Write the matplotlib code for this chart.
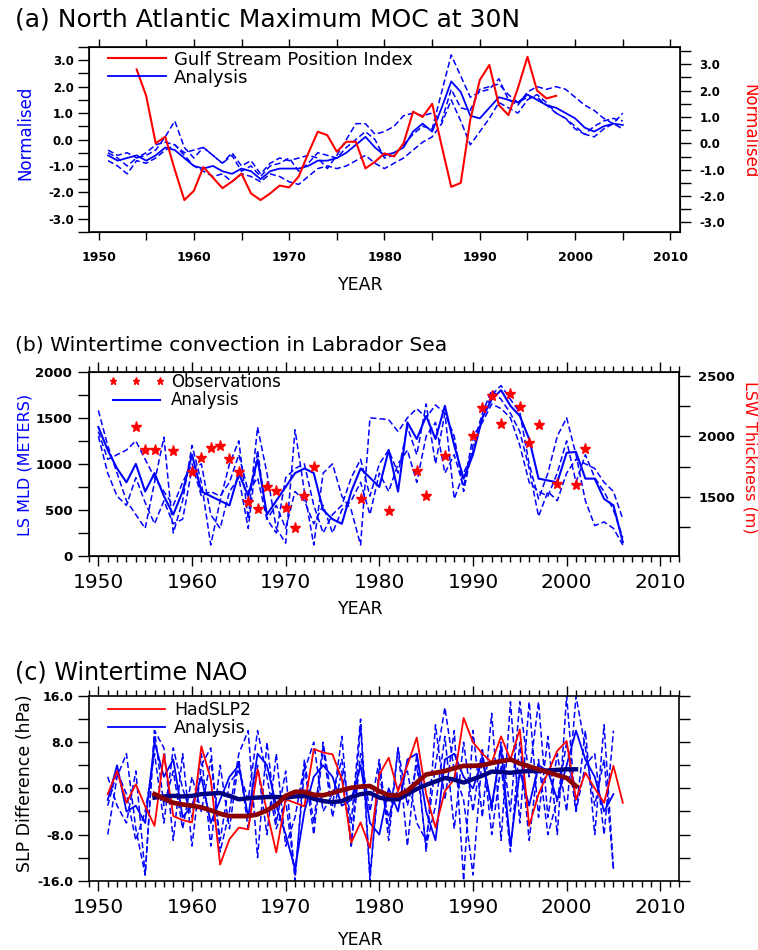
import numpy as np
import matplotlib
matplotlib.use('Agg')
import matplotlib.pyplot as plt
from matplotlib.ticker import MultipleLocator, FormatStrFormatter

plt.rcParams['font.family'] = ['DejaVu Sans']

BLUE = '#0000ff'
RED = '#ff0000'
DARKRED = '#8b0000'
NAVY = '#000080'
DASH = (0, (4, 2))

# ---------------- (a) MOC at 30N ----------------
gsi_years = np.arange(1954, 1999)
gsi = [2.8, 1.8, 0.0, 0.25, -1.0, -2.15, -1.8, -0.9, -1.3, -1.7,
       -1.45, -1.15, -1.9, -2.15, -1.9, -1.6, -1.67, -1.26, -0.38, 0.44,
       0.31, -0.32, 0.06, 0.06, -0.95, -0.7, -0.38, -0.5, 0.0, 1.2,
       1.0, 1.5, -0.1, -1.65, -1.5, 0.9, 2.4, 2.97, 1.45, 1.07,
       2.1, 3.28, 2.0, 1.7, 1.8]

moc_years = np.arange(1951, 2006)
moc_solid = [-0.6, -0.8, -0.7, -0.6, -0.8, -0.6, -0.3, -0.4, -0.7, -1.0,
             -1.1, -1.0, -1.2, -1.3, -1.1, -1.2, -1.5, -1.2, -1.1, -1.1,
             -1.1, -1.0, -0.8, -0.8, -0.7, -0.5, -0.2, 0.1, -0.3, -0.6,
             -0.5, -0.3, 0.3, 0.6, 0.3, 1.2, 2.2, 1.8, 0.9, 0.8,
             1.2, 1.6, 1.5, 1.4, 1.7, 1.5, 1.3, 1.2, 1.0, 0.8,
             0.45, 0.3, 0.5, 0.6, 0.55]
moc_dash1 = [-0.5, -0.7, -1.0, -0.7, -0.6, -0.4, 0.1, 0.7, -0.3, -0.7,
             -0.3, -0.6, -0.9, -0.6, -1.2, -1.0, -1.4, -1.0, -0.9, -0.7,
             -1.2, -0.9, -0.5, -0.6, -0.7, -0.3, 0.0, 0.3, 0.0, -0.7,
             -0.6, -0.2, 0.2, 0.5, 0.4, 1.8, 3.2, 2.4, 1.6, 1.8,
             1.9, 2.3, 1.5, 1.3, 1.8, 2.0, 1.9, 2.0, 1.9, 1.6,
             1.3, 1.1, 0.8, 0.6, 1.0]
moc_dash2 = [-0.8, -1.0, -1.3, -0.8, -0.9, -0.7, -0.4, -0.2, -0.6, -1.0,
             -1.2, -1.4, -1.3, -1.6, -1.3, -1.4, -1.6, -1.3, -1.4, -1.6,
             -1.7, -1.4, -1.1, -1.0, -1.1, -1.0, -0.8, -0.6, -0.9, -1.1,
             -0.9, -0.7, -0.4, -0.1, 0.1, 0.6, 1.5, 0.7, -0.2, 0.3,
             0.8, 1.4, 1.2, 1.0, 1.5, 1.7, 1.4, 1.0, 0.8, 0.5,
             0.2, 0.1, 0.4, 0.6, 0.4]
moc_dash3 = [-0.4, -0.6, -0.5, -0.7, -0.5, -0.2, -0.1, -0.2, -0.5, -0.4,
             -0.3, -0.6, -0.9, -0.5, -1.0, -0.8, -1.3, -0.9, -0.7, -0.8,
             -0.7, -0.6, -0.7, -1.1, -0.6, 0.0, 0.6, 0.6, 0.2, 0.3,
             0.5, 0.9, 1.0, 0.9, 1.0, 0.7, 1.9, 1.2, 1.1, 1.9,
             2.0, 2.1, 1.7, 1.4, 1.6, 1.6, 1.3, 1.0, 0.8, 0.4,
             0.2, 0.5, 0.7, 0.8, 0.7]

# ---------------- (b) Labrador Sea ----------------
obs_years = [1954, 1955, 1956, 1958, 1960, 1961, 1962, 1963, 1964, 1965,
             1966, 1967, 1968, 1969, 1970, 1971, 1972, 1973, 1978, 1981,
             1984, 1985, 1987, 1990, 1991, 1992, 1993, 1994, 1995, 1996,
             1997, 1999, 2001, 2002]
obs_lsw = [2075, 1887, 1887, 1881, 1707, 1818, 1906, 1920, 1810, 1707,
           1459, 1395, 1578, 1550, 1404, 1238, 1508, 1749, 1478, 1382,
           1713, 1506, 1838, 2003, 2233, 2335, 2103, 2352, 2246, 1948,
           2094, 1603, 1597, 1893]

mld_years = np.arange(1950, 2007)
mld_solid = [1400, 1150, 950, 800, 1000, 700, 900, 650, 450, 700,
             1100, 700, 650, 600, 550, 900, 650, 1050, 450, 600,
             750, 900, 950, 900, 500, 400, 350, 700, 950, 850,
             750, 1150, 700, 1450, 1270, 1520, 1270, 1630, 1200, 840,
             1100, 1500, 1700, 1800, 1630, 1520, 1270, 840, 820, 800,
             1120, 1130, 840, 840, 620, 550, 150]
mld_dash1 = [1580, 1200, 900, 600, 450, 300, 800, 1290, 250, 600,
             1200, 800, 120, 600, 1000, 1250, 400, 1400, 900, 300,
             140, 1370, 700, 120, 900, 1000, 650, 500, 120, 1500,
             1490, 1480, 1350, 1500, 1600, 1500, 1640, 1550, 620, 900,
             1130, 1500, 1750, 1850, 1700, 1560, 1000, 620, 900, 1300,
             1500, 1100, 600, 330, 370, 300, 120]
mld_dash2 = [1350, 1050, 1100, 1150, 1250, 1050, 850, 700, 550, 800,
             1000, 650, 700, 650, 800, 1100, 700, 850, 400, 250,
             850, 950, 1000, 550, 250, 450, 550, 850, 1050, 650,
             1000, 1150, 900, 1400, 1100, 1650, 1000, 1550, 1300, 700,
             1200, 1550, 1800, 1700, 1550, 1350, 950, 430, 700, 600,
             900, 1050, 1000, 950, 800, 700, 400]
mld_dash3 = [1300, 900, 650, 550, 850, 580, 350, 600, 350, 400,
             950, 1000, 450, 300, 700, 850, 300, 1150, 400, 550,
             300, 700, 600, 350, 550, 250, 500, 600, 800, 450,
             900, 700, 1000, 1150, 800, 1300, 1450, 900, 1100, 750,
             1300, 1450, 1650, 1600, 1500, 1200, 800, 700, 650, 900,
             1250, 800, 1100, 850, 700, 500, 200]

# ---------------- (c) Wintertime NAO ----------------
had_years = np.arange(1951, 2007)
hadslp2 = [-1.0, 3.0, -2.5, 0.7, -3.1, -6.5, 5.9, -4.8, -5.5, -5.9,
           7.3, 1.6, -13.2, -8.8, -6.8, -7.1, 3.3, -4.0, -11.1, -1.9,
           -2.5, -3.1, 6.8, 6.2, 5.9, 1.6, -9.4, -5.9, -10.3, 2.4,
           5.3, -0.5, 4.0, 8.8, -1.0, -6.8, -0.5, 1.6, 12.2, 8.0,
           6.0, 4.5, 9.0, 5.0, 10.2, -6.5, -1.0, 2.7, 6.5, 8.2,
           -1.9, 2.7, 0.0, -2.5, 3.9, -2.5]

smooth_years = np.arange(1956, 2002)
had_smooth = [-1.0, -1.8, -2.5, -2.8, -3.0, -3.3, -3.8, -4.4, -4.8, -4.8,
              -4.8, -4.5, -3.8, -2.9, -1.3, -0.6, -0.6, -1.1, -1.2, -0.8,
              -0.3, 0.1, 0.3, 0.4, -0.5, -1.2, -1.2, -0.4, 1.0, 2.4,
              2.7, 3.0, 3.5, 3.9, 3.9, 4.0, 4.4, 4.7, 5.0, 4.3,
              3.8, 3.3, 2.8, 2.3, 1.8, 0.4]
ana_smooth = [-1.6, -1.4, -1.3, -1.4, -1.3, -1.0, -0.9, -0.8, -1.3, -1.9,
              -1.7, -1.6, -1.5, -1.5, -1.6, -1.4, -1.3, -1.8, -2.2, -2.4,
              -2.2, -1.5, -1.0, -0.8, -1.6, -1.9, -1.9, -1.0, -0.1, 0.6,
              1.2, 1.8, 1.5, 1.0, 1.6, 2.2, 2.9, 2.8, 2.7, 2.9,
              3.0, 3.0, 3.1, 3.2, 3.3, 3.3]

nao_years = np.arange(1951, 2006)
nao_solid = [-2, 4, -4, -3, -6, 8, 2, 5, -5, -3,
             2, -6, -2, 2, 4, -5, 6, 4, -3, -8,
             -14, -4, 2, 4, 2, -3, -2, 4, -6, -8,
             0, -4, 5, 6, -4, -9, 5, 6, 2, 0,
             5, -3, 7, -10, 3, -3, 4, 3, -2, 4,
             10, 5, 2, -4, -1]
nao_dash1 = [-8, 2, 6, -7, -15, 10, 7, -9, 6, -10,
             4, 7, -11, -4, 6, 10, -12, 8, -6, 3,
             -16, 5, -6, 8, -3, 9, -10, 11, -16, 4,
             -7, 7, -10, 6, -11, 11, -2, 10, -16, 10,
             -5, 13, -9, 15, -6, 15, -5, 9, -8, 16,
             -4, 10, -8, 11, -14]
nao_dash2 = [2, -3, -6, 3, -15, 10, -3, 3, -7, 2,
             -4, 5, -9, 1, 3, -2, 10, 2, -7, -2,
             -15, 3, 8, -4, -1, 5, -6, 12, -15, 2,
             -5, 0, 3, -6, -9, 4, 14, 3, -2, -15,
             6, -4, 8, -4, 15, 2, 15, -5, 6, -4,
             16, 7, -3, 5, -14]
nao_dash3 = [-3, 3, -1, -9, -4, 6, -6, 7, 0, -5,
             6, -10, 4, -7, 5, -7, 4, -8, 6, -10,
             -5, 4, -8, 7, -5, 3, -10, 6, -4, 5,
             -9, 7, -3, 4, -10, -3, 9, -7, 8, -4,
             7, -8, 4, -11, 8, -9, 5, -8, -2, 8,
             -4, 4, 6, -8, 10]


def bold_ticks(ax, which):
    labs = ax.get_xticklabels() if which == 'x' else ax.get_yticklabels()
    plt.setp(labs, fontweight='bold')


def style_frame(ax):
    for s in ax.spines.values():
        s.set_linewidth(1.2)


fig = plt.figure(figsize=(7.58, 9.5), dpi=100)

# ======== panel (a) ========
axa = fig.add_axes([0.1174, 0.7558, 0.7797, 0.1947])
style_frame(axa)
axa.plot(moc_years, moc_dash1, color=BLUE, lw=1.1, ls=DASH)
axa.plot(moc_years, moc_dash2, color=BLUE, lw=1.1, ls=DASH)
axa.plot(moc_years, moc_dash3, color=BLUE, lw=1.1, ls=DASH)
ln_ana_a, = axa.plot(moc_years, moc_solid, color=BLUE, lw=1.3)
axa.set_xlim(1949, 2011)
axa.set_ylim(-3.5, 3.5)
axa.xaxis.set_major_locator(MultipleLocator(10))
axa.xaxis.set_minor_locator(MultipleLocator(5))
axa.yaxis.set_major_locator(MultipleLocator(1))
axa.yaxis.set_minor_locator(MultipleLocator(0.5))
axa.yaxis.set_major_formatter(FormatStrFormatter('%.1f'))
axa.tick_params(axis='x', which='both', direction='out', top=True, length=6,
                width=1, labelsize=9, pad=8)
axa.tick_params(axis='y', which='both', direction='out', length=8, width=1,
                labelsize=8.5, pad=3)
bold_ticks(axa, 'x')
bold_ticks(axa, 'y')

axa2 = axa.twinx()
ln_gsi, = axa2.plot(gsi_years, gsi, color=RED, lw=1.5)
axa2.set_ylim(-3.36, 3.65)
axa2.yaxis.set_major_locator(MultipleLocator(1))
axa2.yaxis.set_minor_locator(MultipleLocator(0.5))
axa2.yaxis.set_major_formatter(FormatStrFormatter('%.1f'))
axa2.tick_params(axis='y', which='both', direction='out', length=8, width=1,
                 labelsize=8.5, pad=6)
bold_ticks(axa2, 'y')
axa2.legend([ln_gsi, ln_ana_a], ['Gulf Stream Position Index', 'Analysis'],
            loc='upper left', bbox_to_anchor=(0.032, 0.98), frameon=False,
            fontsize=13, handlelength=3.2, handletextpad=0.45,
            labelspacing=0.0, borderpad=0, borderaxespad=0)

fig.text(0.0198, 0.979, '(a) North Atlantic Maximum MOC at 30N',
         fontsize=18, va='center', ha='left')
fig.text(0.033, 0.86, 'Normalised', rotation=90, color=BLUE,
         fontsize=12, ha='center', va='center')
fig.text(0.989, 0.862, 'Normalised', rotation=270, color=RED,
         fontsize=12, ha='center', va='center')
fig.text(0.476, 0.70, 'YEAR', fontsize=12.5, ha='center', va='center')

# ======== panel (b) ========
axb = fig.add_axes([0.1174, 0.4147, 0.7784, 0.194])
style_frame(axb)
axb.plot(mld_years, mld_dash1, color=BLUE, lw=1.1, ls=DASH)
axb.plot(mld_years, mld_dash2, color=BLUE, lw=1.1, ls=DASH)
axb.plot(mld_years, mld_dash3, color=BLUE, lw=1.1, ls=DASH)
ln_ana_b, = axb.plot(mld_years, mld_solid, color=BLUE, lw=1.5)
axb.set_xlim(1949, 2012)
axb.set_ylim(0, 2000)
axb.xaxis.set_major_locator(MultipleLocator(10))
axb.xaxis.set_minor_locator(MultipleLocator(1))
axb.yaxis.set_major_locator(MultipleLocator(500))
axb.yaxis.set_minor_locator(MultipleLocator(250))
axb.tick_params(axis='x', which='major', direction='out', top=True, length=7.5,
                width=1, labelsize=14.5, pad=5)
axb.tick_params(axis='x', which='minor', direction='out', top=True, length=4.5,
                width=1)
axb.tick_params(axis='y', which='both', direction='out', length=8, width=1,
                labelsize=9.5, pad=4)
bold_ticks(axb, 'y')

axb2 = axb.twinx()
ln_obs, = axb2.plot(obs_years, obs_lsw, ls='none', marker='*', color=RED,
                    ms=8, mec=RED)
axb2.set_ylim(1008, 2536)
axb2.yaxis.set_major_locator(MultipleLocator(500))
axb2.yaxis.set_minor_locator(MultipleLocator(250))
axb2.tick_params(axis='y', which='both', direction='out', length=8, width=1,
                 labelsize=9.5, pad=6)
bold_ticks(axb2, 'y')
axb2.legend([ln_obs, ln_ana_b], ['Observations', 'Analysis'],
            loc='upper left', bbox_to_anchor=(0.032, 0.995), frameon=False,
            fontsize=12, handlelength=3.4, handletextpad=0.4, numpoints=3,
            markerscale=0.65, labelspacing=0.05, borderpad=0, borderaxespad=0)

fig.text(0.0198, 0.637, '(b) Wintertime convection in Labrador Sea',
         fontsize=14.6, va='center', ha='left')
fig.text(0.033, 0.5105, 'LS MLD (METERS)', rotation=90, color=BLUE,
         fontsize=11.5, ha='center', va='center')
fig.text(0.989, 0.519, 'LSW Thickness (m)', rotation=270, color=RED,
         fontsize=11.5, ha='center', va='center')
fig.text(0.476, 0.359, 'YEAR', fontsize=12.5, ha='center', va='center')

# ======== panel (c) ========
axc = fig.add_axes([0.1174, 0.0729, 0.7784, 0.1945])
style_frame(axc)
axc.plot(nao_years, nao_dash1, color=BLUE, lw=1.1, ls=DASH)
axc.plot(nao_years, nao_dash2, color=BLUE, lw=1.1, ls=DASH)
axc.plot(nao_years, nao_dash3, color=BLUE, lw=1.1, ls=DASH)
ln_ana_c, = axc.plot(nao_years, nao_solid, color=BLUE, lw=1.3)
ln_had, = axc.plot(had_years, hadslp2, color=RED, lw=1.3)
axc.plot(smooth_years, ana_smooth, color=NAVY, lw=3.2)
axc.plot(smooth_years, had_smooth, color=DARKRED, lw=3.4)
axc.set_xlim(1949, 2012)
axc.set_ylim(-16, 16)
axc.xaxis.set_major_locator(MultipleLocator(10))
axc.xaxis.set_minor_locator(MultipleLocator(1))
axc.yaxis.set_major_locator(MultipleLocator(8))
axc.yaxis.set_minor_locator(MultipleLocator(4))
axc.yaxis.set_major_formatter(FormatStrFormatter('%.1f'))
axc.tick_params(axis='x', which='major', direction='out', top=True, length=7.5,
                width=1, labelsize=14.5, pad=5)
axc.tick_params(axis='x', which='minor', direction='out', top=True, length=4.5,
                width=1)
axc.tick_params(axis='y', which='both', direction='out', right=True, length=8,
                width=1, labelsize=9, pad=3)
bold_ticks(axc, 'y')
axc.legend([ln_had, ln_ana_c], ['HadSLP2', 'Analysis'],
           loc='upper left', bbox_to_anchor=(0.032, 0.975), frameon=False,
           fontsize=12.5, handlelength=3.3, handletextpad=0.5,
           labelspacing=0.0, borderpad=0, borderaxespad=0)

fig.text(0.0198, 0.2916, '(c) Wintertime NAO', fontsize=17.2,
         va='center', ha='left')
fig.text(0.033, 0.176, 'SLP Difference (hPa)', rotation=90,
         fontsize=12.5, ha='center', va='center')
fig.text(0.476, 0.0105, 'YEAR', fontsize=12.5, ha='center', va='center')

fig.savefig('out.png', dpi=100)
